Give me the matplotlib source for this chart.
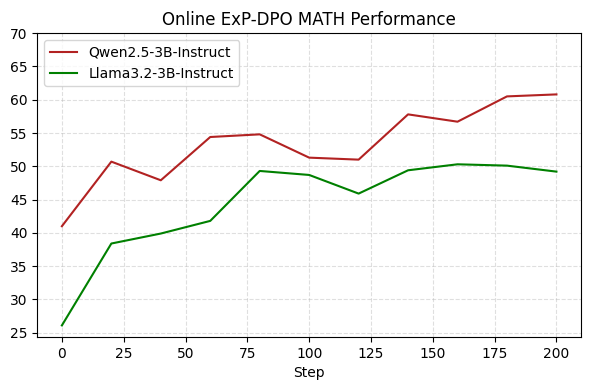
import matplotlib
matplotlib.use('Agg')
import matplotlib.pyplot as plt

steps = [0, 20, 40, 60, 80, 100, 120, 140, 160, 180, 200]
qwen = [41.0, 50.7, 47.9, 54.4, 54.8, 51.3, 51.0, 57.8, 56.7, 60.5, 60.8]
llama = [26.1, 38.4, 39.9, 41.8, 49.3, 48.7, 45.9, 49.4, 50.3, 50.1, 49.2]

fig, ax = plt.subplots(figsize=(5.9, 3.9), dpi=100)

ax.plot(steps, qwen, color='#b22222', label='Qwen2.5-3B-Instruct')
ax.plot(steps, llama, color='green', label='Llama3.2-3B-Instruct')

ax.set_ylim(top=70)
ax.set_yticks(range(25, 71, 5))
ax.set_title('Online ExP-DPO MATH Performance')
ax.set_xlabel('Step')
ax.grid(True, linestyle='--', alpha=0.4)
ax.legend(loc='upper left')

plt.subplots_adjust(left=0.063, right=0.985, top=0.915, bottom=0.136)
plt.savefig('out.png')
